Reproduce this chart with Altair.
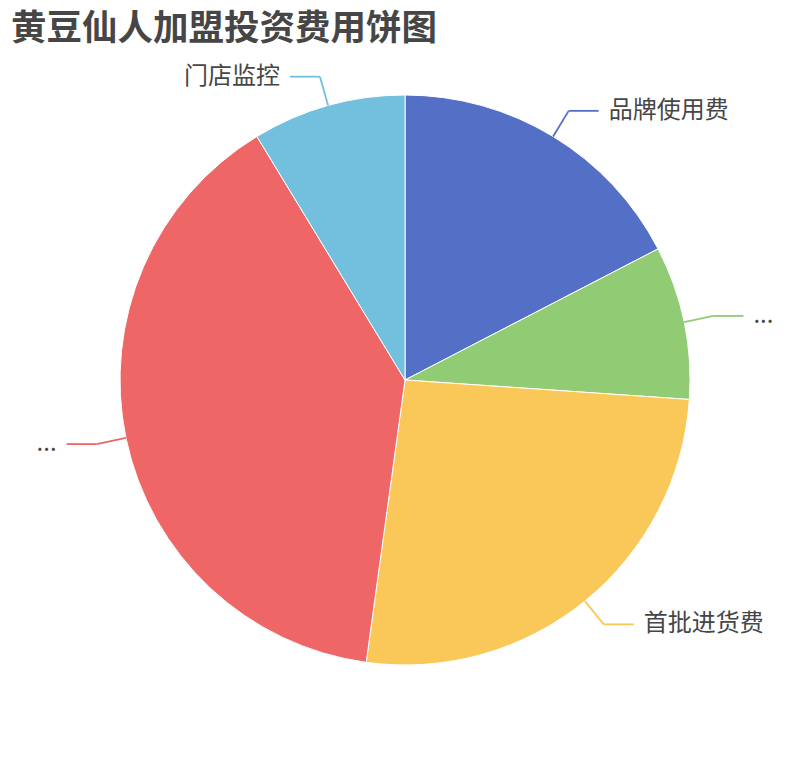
import altair as alt
import pandas as pd

# ---- data ----
categories = ["品牌使用费", "...", "首批进货费", "...", "门店监控"]
values = [2, 1, 3, 4.5, 1]
colors = ["#5470c6", "#91cc75", "#fac858", "#ee6666", "#73c0de"]

df = pd.DataFrame({"idx": list(range(len(categories))), "name": categories, "value": values})

# layout constants (pixels)
PAD_TOP = 43
W, H = 794, 658
CX, CY = W / 2, H / 2
R = 285          # pie radius
R2 = 315         # end of first leader segment
SEG = 30         # horizontal leader segment
GAP = 10         # gap between leader and label

color = alt.Color("idx:N", scale=alt.Scale(domain=list(range(len(categories))), range=colors), legend=None)

base = alt.Chart(df)

pie = base.mark_arc(outerRadius=R, stroke="#ffffff", strokeWidth=1).encode(
    theta=alt.Theta("value:Q", stack=True),
    order=alt.Order("idx:Q"),
    color=color,
)

geo = base.transform_joinaggregate(
    total="sum(value)"
).transform_window(
    cum="sum(value)", sort=[alt.SortField("idx")], frame=[None, 0]
).transform_calculate(
    mid="(datum.cum - datum.value / 2) / datum.total * 2 * PI",
).transform_calculate(
    side="sin(datum.mid) >= 0 ? 1 : -1",
    ax=f"{CX} + {R} * sin(datum.mid)",
    ay=f"{CY} - {R} * cos(datum.mid)",
    bx=f"{CX} + {R2} * sin(datum.mid)",
    by=f"{CY} - {R2} * cos(datum.mid)",
).transform_calculate(
    cx3=f"datum.bx + datum.side * {SEG}",
).transform_calculate(
    tx=f"datum.cx3 + datum.side * {GAP}",
)

seg1 = geo.mark_rule(strokeWidth=1.8).encode(
    x=alt.X("ax:Q", scale=None, axis=None),
    y=alt.Y("ay:Q", scale=None, axis=None),
    x2="bx:Q",
    y2="by:Q",
    color=color,
)
seg2 = geo.mark_rule(strokeWidth=1.8).encode(
    x=alt.X("bx:Q", scale=None, axis=None),
    y=alt.Y("by:Q", scale=None, axis=None),
    x2="cx3:Q",
    y2="by:Q",
    color=color,
)

label_style = dict(font="Noto Sans CJK SC", fontSize=24, color="#464646", baseline="middle")
labels_right = geo.transform_filter("datum.side > 0").mark_text(align="left", **label_style).encode(
    x=alt.X("tx:Q", scale=None, axis=None),
    y=alt.Y("by:Q", scale=None, axis=None),
    text="name:N",
)
labels_left = geo.transform_filter("datum.side < 0").mark_text(align="right", **label_style).encode(
    x=alt.X("tx:Q", scale=None, axis=None),
    y=alt.Y("by:Q", scale=None, axis=None),
    text="name:N",
)

chart = alt.layer(pie, seg1, seg2, labels_right, labels_left).properties(
    width=W,
    height=H,
    title=alt.TitleParams(
        "黄豆仙人加盟投资费用饼图",
        anchor="start",
        frame="group",
        fontSize=35.5,
        font="Noto Sans CJK SC",
        fontWeight="bold",
        color="#464646",
        offset=4,
        dx=3,
    ),
    autosize=alt.AutoSizeParams(type="none"),
    padding={"top": PAD_TOP, "left": 0, "right": 0, "bottom": 0},
).configure_view(stroke=None)

chart.save("out.html", embed_options={"renderer": "svg", "actions": False})
